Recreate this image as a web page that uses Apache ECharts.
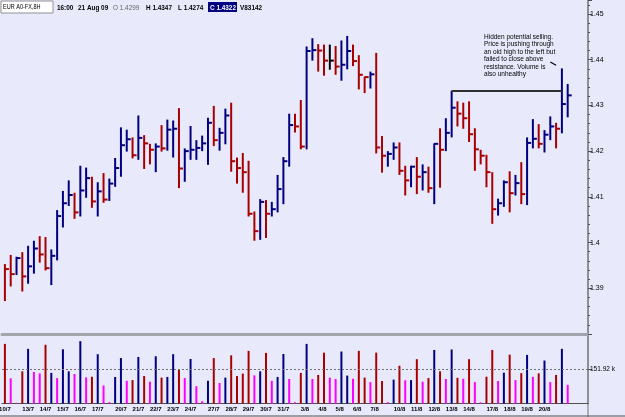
<!DOCTYPE html>
<html>
<head>
<meta charset="utf-8">
<title>EUR A0-FX 8H</title>
<script src="https://cdn.jsdelivr.net/npm/echarts@6/dist/echarts.min.js"></script>
<style>
html, body { margin: 0; padding: 0; background: #e8eafb; }
#chart { width: 625px; height: 417px; }
</style>
</head>
<body>
<div id="chart"></div>
<script>
// trading days and how many 8H bars each one has (sundays only get one)
var days = ['10/7','12/7','13/7','14/7','15/7','16/7','17/7','19/7','20/7','21/7','22/7','23/7','24/7',
    '26/7','27/7','28/7','29/7','30/7','31/7','2/8','3/8','4/8','5/8','6/8','7/8',
    '9/8','10/8','11/8','12/8','13/8','14/8','16/8','17/8','18/8','19/8','20/8','21/8'];
var barsPerDay = [2,1,3,3,3,3,3,1,3,3,3,3,3,1,3,3,3,3,3,1,3,3,3,3,3,1,3,3,3,3,3,1,3,3,3,3,3];
var dayLabels = ['10/7','13/7','14/7','15/7','16/7','17/7','20/7','21/7','22/7','23/7','24/7',
    '27/7','28/7','29/7','30/7','31/7','3/8','4/8','5/8','6/8','7/8',
    '10/8','11/8','12/8','13/8','14/8','17/8','18/8','19/8','20/8'];

var high = [1.3953,1.3973,1.3969,1.3979,1.3993,1.4004,1.4014,1.4012,1.3985,1.4071,
    1.4113,1.4136,1.4109,1.4168,1.4164,1.4144,1.4132,1.4152,1.4140,1.4185,
    1.4252,1.4247,1.4230,1.4278,1.4235,1.4216,1.4217,1.4257,1.4269,1.4267,
    1.4294,1.4206,1.4255,1.4224,1.4234,1.4273,1.4299,1.4251,1.4293,1.4306,
    1.4186,1.4196,1.4179,1.4068,1.4095,1.4093,1.4089,1.4148,1.4187,1.4282,
    1.4282,1.4312,1.4429,1.4447,1.4434,1.4433,1.4433,1.4430,1.4442,1.4452,
    1.4433,1.4410,1.4363,1.4374,1.4415,1.4233,1.4200,1.4219,1.4219,1.4168,
    1.4168,1.4187,1.4171,1.4166,1.4217,1.4250,1.4272,1.4332,1.4309,1.4306,
    1.4309,1.4250,1.4203,1.4192,1.4154,1.4096,1.4136,1.4156,1.4148,1.4176,
    1.4230,1.4270,1.4259,1.4246,1.4276,1.4262,1.4381,1.4347];
var low = [1.3872,1.3904,1.3929,1.3893,1.3910,1.3932,1.3956,1.3939,1.3907,1.3961,
    1.4033,1.4080,1.4052,1.4057,1.4098,1.4076,1.4057,1.4087,1.4091,1.4122,
    1.4144,1.4199,1.4184,1.4181,1.4161,1.4171,1.4154,1.4199,1.4201,1.4186,
    1.4119,1.4133,1.4181,1.4181,1.4200,1.4170,1.4211,1.4201,1.4215,1.4155,
    1.4129,1.4109,1.4057,1.4004,1.4006,1.4010,1.4057,1.4066,1.4084,1.4166,
    1.4241,1.4204,1.4204,1.4398,1.4374,1.4365,1.4378,1.4367,1.4354,1.4379,
    1.4386,1.4335,1.4327,1.4337,1.4195,1.4153,1.4166,1.4181,1.4148,1.4103,
    1.4121,1.4106,1.4114,1.4109,1.4084,1.4120,1.4200,1.4230,1.4254,1.4249,
    1.4220,1.4157,1.4171,1.4121,1.4041,1.4059,1.4078,1.4066,1.4103,1.4084,
    1.4082,1.4206,1.4206,1.4197,1.4224,1.4206,1.4239,1.4274];
var close = [1.3942,1.3931,1.3966,1.3926,1.3948,1.3987,1.3974,1.3944,1.3971,1.4058,
    1.4086,1.4104,1.4066,1.4114,1.4141,1.4090,1.4112,1.4094,1.4129,1.4163,
    1.4213,1.4226,1.4191,1.4229,1.4217,1.4203,1.4210,1.4206,1.4247,1.4249,
    1.4162,1.4200,1.4203,1.4207,1.4217,1.4262,1.4224,1.4240,1.4278,1.4178,
    1.4163,1.4154,1.4063,1.4025,1.4089,1.4063,1.4073,1.4117,1.4178,1.4257,
    1.4254,1.4210,1.4419,1.4421,1.4420,1.4398,1.4398,1.4385,1.4389,1.4419,
    1.4397,1.4367,1.4362,1.4368,1.4208,1.4190,1.4194,1.4208,1.4157,1.4136,
    1.4166,1.4144,1.4154,1.4119,1.4216,1.4203,1.4240,1.4295,1.4282,1.4272,
    1.4237,1.4204,1.4190,1.4154,1.4073,1.4086,1.4132,1.4108,1.4130,1.4106,
    1.4218,1.4227,1.4216,1.4236,1.4254,1.4249,1.4303,1.4322];
// volume in thousands
var volume = [265,112,3,143,243,140,134,261,136,113,
    241,143,131,277,116,119,219,80,6,118,
    202,101,104,207,122,97,210,115,118,219,
    149,113,198,77,10,101,202,91,115,214,
    122,133,234,125,143,225,101,118,220,109,
    6,136,265,109,127,226,115,109,231,124,
    110,234,115,95,226,100,6,106,168,103,
    104,197,97,113,238,143,109,240,114,110,
    197,95,5,119,238,100,137,217,104,135,
    216,118,134,191,95,127,243,83.142];
var prevClose = 1.3950;   // close of the bar before the first one
var lastOpen = 1.4299;
var volRef = 151.92;

var upColor = '#00007f', downColor = '#a80000', flatColor = '#000000', lowVolColor = '#ff00ff';
var font = 'Liberation Sans, Arial, sans-serif';

// build categories
var cats = [];
var labelIdx = {};
for (var d = 0; d < days.length; d++) {
    var n = barsPerDay[d];
    var hours = n === 3 ? ['00:00','08:00','16:00'] : (n === 2 ? ['08:00','16:00'] : ['16:00']);
    if (dayLabels.indexOf(days[d]) >= 0) labelIdx[cats.length] = true;
    for (var j = 0; j < n; j++) cats.push(days[d] + ' ' + hours[j]);
}
// empty room on the right of the last bar
cats.push(' ', '  ', '   ');
var axisCats = cats.map(function (c, i) {
    return i === 0 ? { value: c, textStyle: { align: 'center' } } : c;
});

function dirColor(i) {
    var p = i ? close[i - 1] : prevClose;
    if (close[i] > p) return upColor;
    if (close[i] < p) return downColor;
    return flatColor;
}
function volColor(i) {
    if (i > 0 && volume[i] < volume[i - 1] && (i < 2 || volume[i] < volume[i - 2])) return lowVolColor;
    return dirColor(i);
}

var priceData = high.map(function (h, i) { return [i, h, low[i], close[i]]; });
var volData = volume.map(function (v, i) {
    return { value: v, itemStyle: { color: volColor(i) } };
});

var myChart = echarts.init(document.getElementById('chart'));

var last = close.length - 1;
var header = [
    { t: '16:00', x: 57, w: 'bold', c: '#000' },
    { t: '21 Aug 09', x: 78, w: 'bold', c: '#000' },
    { t: 'O ' + lastOpen.toFixed(4), x: 113, w: 'normal', c: '#666' },
    { t: 'H ' + high[last].toFixed(4), x: 146, w: 'bold', c: '#000' },
    { t: 'L ' + low[last].toFixed(4), x: 178, w: 'bold', c: '#000' },
    { t: 'C ' + close[last].toFixed(4), x: 210, w: 'bold', c: '#fff' },
    { t: 'V' + Math.round(volume[last] * 1000), x: 240, w: 'bold', c: '#000' }
];

var graphics = [
    { type: 'rect', shape: { x: 1, y: 1, width: 52, height: 12 }, style: { fill: '#fff', stroke: '#909090', lineWidth: 1 } },
    { type: 'text', x: 3, y: 7, scaleX: 0.85, style: { text: 'EUR A0-FX,8H', font: '6.5px ' + font, fill: '#000', verticalAlign: 'middle' } },
    { type: 'rect', shape: { x: 208, y: 2, width: 29, height: 10 }, style: { fill: '#000080' } },
    { type: 'line', shape: { x1: 588, y1: 403, x2: 588, y2: 417 }, style: { stroke: '#707070', lineWidth: 1 } },
    { type: 'line', shape: { x1: 0, y1: 416, x2: 625, y2: 416 }, style: { stroke: '#505050', lineWidth: 1 } },
    {
        type: 'text', x: 484, y: 33,
        style: {
            text: 'Hidden potential selling.\nPrice is pushing through\nan old high to the left but\nfailed to close above\nresistance. Volume is\nalso unhealthy',
            font: '6.5px ' + font, lineHeight: 7.5, fill: '#000'
        }
    }
];
header.forEach(function (h) {
    graphics.push({ type: 'text', x: h.x, y: 7.5, scaleX: 0.8,
        style: { text: h.t, font: h.w + ' 8px ' + font, fill: h.c, verticalAlign: 'middle' } });
});

var option = {
    backgroundColor: '#e8eafb',
    animation: false,
    grid: [
        { left: 2, right: 37, top: 0, height: 334, outerBoundsMode: 'none' },
        { left: 2, right: 37, top: 336, height: 67.5, outerBoundsMode: 'none' }
    ],
    xAxis: [
        {
            type: 'category', gridIndex: 0, data: cats, boundaryGap: true,
            axisLine: { show: true, lineStyle: { color: '#a4a4ac', width: 3 } },
            axisTick: { show: false }, axisLabel: { show: false }, splitLine: { show: false }
        },
        {
            type: 'category', gridIndex: 1, data: axisCats, boundaryGap: true,
            axisLine: { show: true, lineStyle: { color: '#505050', width: 1 } },
            axisTick: { show: false },
            axisLabel: {
                interval: function (index) { return !!labelIdx[index]; },
                formatter: function (v) { return v.split(' ')[0]; },
                align: 'left', margin: 3, fontSize: 6, fontWeight: 'bold', color: '#000', fontFamily: font
            },
            splitLine: { show: false }
        }
    ],
    yAxis: [
        {
            type: 'value', gridIndex: 0, position: 'right',
            min: 1.38, max: 1.45306, interval: 0.01,
            axisLine: { show: true, lineStyle: { color: '#707070', width: 1.5 } },
            axisTick: { show: true, length: 4, lineStyle: { color: '#505050' } },
            minorTick: { show: true, splitNumber: 5, length: 2, lineStyle: { color: '#505050' } },
            axisLabel: {
                margin: 2, fontSize: 7, color: '#000', fontFamily: font,
                formatter: function (v) {
                    var r = Math.round(v * 100) / 100;
                    if (Math.abs(v - r) > 1e-6 || r < 1.385) return '';
                    return String(r);
                }
            },
            splitLine: { show: false }
        },
        {
            type: 'value', gridIndex: 1, position: 'right', min: 0, max: 300,
            axisLine: { show: true, lineStyle: { color: '#707070', width: 1.5 } },
            axisTick: { show: true, length: 4, customValues: [volRef], lineStyle: { color: '#505050' } },
            axisLabel: {
                customValues: [volRef], margin: 2, fontSize: 6.5, color: '#000', fontFamily: font,
                formatter: function (v) { return v.toFixed(2) + ' k'; }
            },
            splitLine: { show: false }
        }
    ],
    series: [
        {
            type: 'custom', name: 'EUR', xAxisIndex: 0, yAxisIndex: 0,
            data: priceData,
            encode: { x: 0, y: [1, 2, 3] },
            renderItem: function (params, api) {
                var i = api.value(0);
                var hi = api.coord([i, api.value(1)]);
                var lo = api.coord([i, api.value(2)]);
                var cl = api.coord([i, api.value(3)]);
                var col = dirColor(params.dataIndex);
                return {
                    type: 'group',
                    children: [
                        { type: 'line', shape: { x1: hi[0], y1: hi[1], x2: lo[0], y2: lo[1] }, style: { stroke: col, lineWidth: 2 } },
                        { type: 'line', shape: { x1: cl[0], y1: cl[1], x2: cl[0] + 4, y2: cl[1] }, style: { stroke: col, lineWidth: 2 } }
                    ]
                };
            },
            markLine: {
                silent: true, symbol: 'none', label: { show: false },
                data: [
                    [{ coord: [77, high[77]], lineStyle: { color: '#303030', width: 2, type: 'solid' } },
                     { coord: [96, high[77]] }],
                    [{ coord: [94, 1.4395], lineStyle: { color: '#000', width: 1.2, type: 'solid' } },
                     { coord: [95, 1.4388] }]
                ]
            }
        },
        {
            type: 'bar', name: 'Volume', xAxisIndex: 1, yAxisIndex: 1,
            data: volData, barWidth: 2,
            markLine: {
                silent: true, symbol: 'none', label: { show: false },
                lineStyle: { color: '#707070', width: 1, type: [2, 2] },
                data: [{ yAxis: volRef }]
            }
        }
    ],
    graphic: graphics
};

myChart.setOption(option);
</script>
</body>
</html>
